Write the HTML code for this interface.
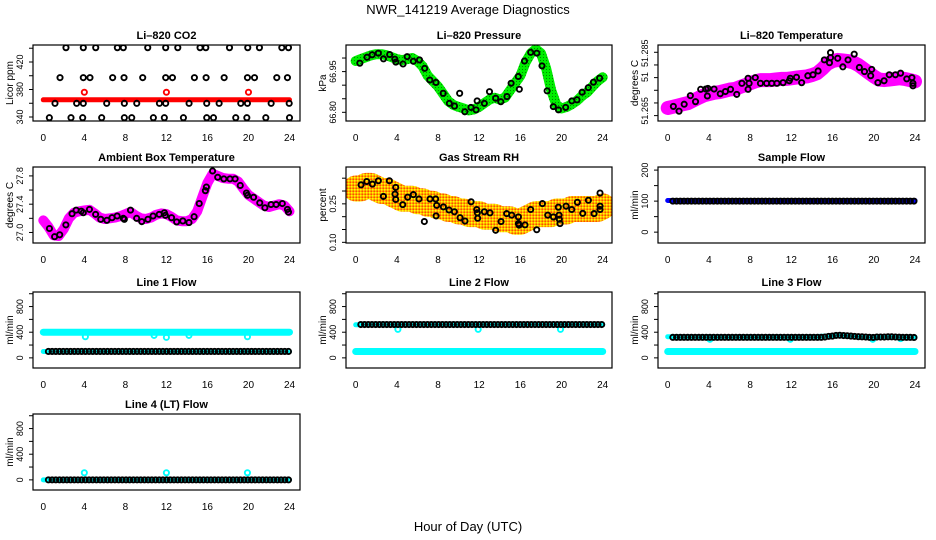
<!DOCTYPE html>
<html><head><meta charset="utf-8"><title>NWR_141219 Average Diagnostics</title>
<style>
html,body{margin:0;padding:0;background:#fff;}
svg{display:block;font-family:"Liberation Sans",sans-serif;}
</style></head>
<body>
<svg id="chart" width="936" height="540" viewBox="0 0 936 540" xmlns="http://www.w3.org/2000/svg">
<defs>
<pattern id="rhpat" width="3" height="3" patternUnits="userSpaceOnUse">
<rect width="3" height="3" fill="#ffb000"/><rect width="1.5" height="1.5" fill="#ffff00"/><rect x="1.5" y="1.5" width="1.5" height="1.5" fill="#ff5000"/>
</pattern>
<pattern id="prpat" width="3" height="3" patternUnits="userSpaceOnUse">
<rect width="3" height="3" fill="#00ee00"/><rect width="1" height="1" fill="#008800"/>
</pattern>
</defs>
<text x="468" y="14" font-size="13" text-anchor="middle">NWR_141219  Average Diagnostics</text>
<text x="468" y="531" font-size="13" text-anchor="middle">Hour of Day (UTC)</text>
</svg>
<script>
// ---------- data ----------
const CLOUD_HOURS = [0,0.5,1,1.5,2,2.5,3,3.5,4,4.5,5,5.5,6,6.5,7,7.5,8,8.5,9,9.5,10,10.5,11,11.5,12,12.5,13,13.5,14,14.5,15,15.5,16,16.5,17,17.5,18,18.5,19,19.5,20,20.5,21,21.5,22,22.5,23,23.5,24];
const BAND_HOURS = [0,2,4,6,8,10,12,14,16,18,20,22,24];
const FLOW_HOURS = [0.5,0.86,1.22,1.58,1.94,2.3,2.66,3.02,3.38,3.74,4.1,4.46,4.82,5.18,5.54,5.9,6.26,6.62,6.98,7.34,7.7,8.06,8.42,8.78,9.14,9.5,9.86,10.22,10.58,10.94,11.3,11.66,12.02,12.38,12.74,13.1,13.46,13.82,14.18,14.54,14.9,15.26,15.62,15.98,16.34,16.7,17.06,17.42,17.78,18.14,18.5,18.86,19.22,19.58,19.94,20.3,20.66,21.02,21.38,21.74,22.1,22.46,22.82,23.18,23.54,23.9];
const X_TICKS = [0,4,8,12,16,20,24];

// CO2
const co2Hours = [2.21,3.90,5.11,7.22,7.80,10.18,11.93,13.11,15.28,15.84,18.15,19.93,21.07,23.25,23.90,
 1.63,3.90,4.55,6.76,7.87,9.69,11.93,12.59,14.73,15.87,17.63,19.90,20.59,22.76,23.80,
 1.14,3.25,3.90,6.18,7.90,9.11,11.32,11.93,14.21,15.93,17.14,19.25,19.90,22.21,23.97,
 0.59,2.70,3.84,5.69,7.90,8.62,10.73,11.80,13.66,15.93,16.59,18.76,19.84,21.69,24.0];
const co2Vals = [440.8,440.8,440.8,440.8,440.8,440.8,440.8,440.8,440.8,440.8,440.8,440.8,440.8,440.8,440.8,
 397.2,397.2,397.2,397.2,397.2,397.2,397.2,397.2,397.2,397.2,397.2,397.2,397.2,397.2,397.2,
 359.9,359.9,359.9,359.9,359.9,359.9,359.9,359.9,359.9,359.9,359.9,359.9,359.9,359.9,359.9,
 339,339,339,339,339,339,339,339,339,339,339,339,339,339,339];
const co2Band = [365,365,365,365,365,365,365,365,365,365,365,365,365];
const co2RedHours = [4.0,12.0,20.0];
const co2RedVals = [376,376,376];

// Pressure
const presHours = [0.4,1.1,1.6,2.2,2.7,3.3,3.8,3.9,4.6,5.0,5.6,6.2,6.7,7.2,7.8,8.5,9.1,9.6,10.1,10.6,11.2,11.7,11.8,12.5,13.0,13.6,14.1,14.7,15.1,15.8,15.9,16.4,17.0,17.6,18.1,18.6,19.2,19.7,20.4,21.0,21.5,22.0,22.6,23.1,23.7];
const presVals = [66.981,67.003,67.012,67.018,66.997,67.013,66.996,66.985,66.978,67.005,66.988,66.993,66.962,66.919,66.910,66.870,66.833,66.823,66.870,66.802,66.818,66.809,66.842,66.833,66.876,66.852,66.839,66.858,66.907,66.932,66.885,66.989,67.021,67.018,66.971,66.879,66.821,66.809,66.818,66.842,66.846,66.874,66.891,66.911,66.926];
const presCloud = [66.989,66.996,67.003,67.010,67.014,67.014,67.010,67.003,66.996,66.992,
 66.996,67.000,66.989,66.969,66.935,66.915,66.895,66.868,66.841,66.827,
 66.820,66.814,66.807,66.811,66.820,66.834,66.847,66.854,66.847,66.854,
 66.881,66.908,66.935,66.983,67.017,67.033,67.017,66.962,66.881,66.827,
 66.814,66.820,66.830,66.843,66.861,66.874,66.895,66.915,66.929];

// Li-820 temperature
const ltHours = [0.55,1.1,1.6,2.2,2.7,3.2,3.7,3.85,3.9,4.5,5.1,5.6,6.1,6.7,7.2,7.8,7.8,7.9,8.5,9.0,9.6,10.1,10.6,11.2,11.8,11.9,12.5,13.0,13.6,14.1,14.6,15.2,15.7,15.8,15.8,16.5,17.0,17.5,18.1,18.6,19.1,19.7,19.8,20.4,21.0,21.5,22.1,22.6,23.2,23.7,23.8,23.8];
const ltVals = [51.2679,51.2664,51.2686,51.2713,51.2694,51.2733,51.2734,51.2712,51.2736,51.2734,51.2719,51.2726,51.2733,51.2717,51.2752,51.2733,51.2768,51.2752,51.2770,51.2752,51.2752,51.2752,51.2752,51.2754,51.2760,51.2768,51.2771,51.2754,51.2776,51.2779,51.2791,51.2826,51.2817,51.2849,51.2833,51.2831,51.2804,51.2826,51.2844,51.2802,51.2789,51.2776,51.2796,51.2754,51.2760,51.2779,51.2779,51.2784,51.2766,51.2770,51.2752,51.2744];
const ltCloud = [51.2674,51.2678,51.2682,51.2686,51.2690,51.2698,51.2706,51.2714,51.2718,51.2722,51.2724,51.2728,51.2732,51.2734,51.2740,51.2746,51.2752,51.2758,51.2762,51.2762,51.2762,51.2764,51.2766,51.2766,51.2768,51.2770,51.2772,51.2774,51.2778,51.2784,51.2798,51.2814,51.2822,51.2826,51.2824,51.2822,51.2818,51.2810,51.2798,51.2786,51.2774,51.2764,51.2762,51.2764,51.2766,51.2768,51.2766,51.2762,51.2758];

// Ambient box temperature
const abHours = [0.6,1.1,1.6,2.2,2.8,3.2,3.7,3.9,4.5,5.1,5.6,6.2,6.7,7.2,7.8,7.9,8.5,9.1,9.6,10.2,10.7,11.3,11.8,11.9,12.5,13.0,13.6,14.2,14.7,15.2,15.8,15.9,16.5,17.0,17.6,18.2,18.7,19.2,19.8,19.9,20.5,21.1,21.6,22.2,22.7,23.3,23.8,23.9];
const abVals = [27.056,26.94,26.967,27.107,27.265,27.316,27.302,27.279,27.326,27.256,27.186,27.172,27.209,27.233,27.2,27.186,27.316,27.2,27.153,27.186,27.233,27.256,27.279,27.242,27.209,27.149,27.163,27.14,27.223,27.409,27.591,27.642,27.87,27.781,27.758,27.758,27.758,27.665,27.558,27.526,27.498,27.419,27.349,27.395,27.395,27.409,27.326,27.288];
const abCloud = [27.17,27.08,26.96,26.95,27.05,27.20,27.28,27.30,27.31,27.32,27.27,27.21,27.19,27.20,27.21,27.23,27.26,27.29,27.24,27.20,27.19,27.21,27.25,27.27,27.26,27.22,27.17,27.16,27.16,27.19,27.30,27.50,27.70,27.83,27.80,27.77,27.76,27.76,27.72,27.62,27.53,27.48,27.43,27.38,27.36,27.38,27.40,27.38,27.30];

// Gas stream RH
const rhHours = [0.52,1.07,1.62,2.20,2.69,3.27,3.82,3.89,3.89,4.57,5.05,5.60,6.15,6.67,7.22,7.77,7.81,7.87,8.52,9.07,9.59,10.14,10.62,11.21,11.76,11.82,11.85,12.50,13.05,13.60,14.12,14.67,15.16,15.81,15.81,15.87,16.45,17.00,17.59,18.14,18.66,19.21,19.69,19.76,19.79,19.85,20.44,20.99,21.54,22.06,22.61,23.16,23.74,23.74,23.74];
const rhVals = [0.324,0.337,0.327,0.340,0.279,0.340,0.288,0.314,0.267,0.247,0.276,0.286,0.269,0.181,0.269,0.269,0.203,0.244,0.238,0.226,0.219,0.196,0.183,0.258,0.228,0.215,0.194,0.219,0.215,0.147,0.181,0.212,0.206,0.199,0.173,0.167,0.168,0.228,0.149,0.251,0.206,0.199,0.237,0.206,0.190,0.173,0.241,0.228,0.256,0.213,0.264,0.212,0.292,0.241,0.228];
const rhCloud = [0.31,0.31,0.32,0.32,0.31,0.30,0.30,0.29,0.28,0.27,0.27,0.27,0.26,0.26,0.25,0.25,0.24,0.24,0.23,0.23,0.22,0.22,0.21,0.21,0.21,0.20,0.20,0.20,0.19,0.19,0.19,0.18,0.18,0.19,0.20,0.21,0.21,0.21,0.21,0.22,0.22,0.22,0.23,0.23,0.23,0.23,0.23,0.23,0.24];

// Sample flow
const sfVals = [100,100,100,100,100,100,100,100,100,100,100,100,100,100,100,100,100,100,100,100,100,100,100,100,100,100,100,100,100,100,100,100,100,100,100,100,100,100,100,100,100,100,100,100,100,100,100,100,100,100,100,100,100,100,100,100,100,100,100,100,100,100,100,100,100,100];
const sfBand = [102,102,102,102,102,102,102,102,100,102,102,102,102];

// Line flows
const l1Vals = [100,100,100,100,100,100,100,100,100,100,100,100,100,100,100,100,100,100,100,100,100,100,100,100,100,100,100,100,100,100,100,100,100,100,100,100,100,100,100,100,100,100,100,100,100,100,100,100,100,100,100,100,100,100,100,100,100,100,100,100,100,100,100,100,100,100];
const l1BandHi = [400,400,400,400,400,400,400,400,400,400,400,400,400];
const l1BandLo = [100,100,100,100,100,100,100,100,100,100,100,100,100];
const l1DipHours = [4.1,10.8,12.0,14.2,19.9];
const l1DipVals = [330,350,320,350,330];

const l2Vals = [520,520,520,520,520,520,520,520,520,520,520,520,520,520,520,520,520,520,520,520,520,520,520,520,520,520,520,520,520,520,520,520,520,520,520,520,520,520,520,520,520,520,520,520,520,520,520,520,520,520,520,520,520,520,520,520,520,520,520,520,520,520,520,520,520,520];
const l2BandHi = [515,515,515,515,515,515,515,515,515,515,515,515,515];
const l2BandLo = [100,100,100,100,100,100,100,100,100,100,100,100,100];
const l2DipHours = [4.1,11.9,19.9];
const l2DipVals = [445,445,445];

const l3Vals = [320,320,320,320,320,320,320,320,320,320,320,320,320,320,320,320,320,320,320,320,320,320,320,320,320,320,320,320,320,320,320,320,320,320,320,320,320,320,320,320,320,325,335,340,350,352,348,345,340,335,330,328,325,320,318,325,325,325,328,328,325,322,320,320,320,318];
const l3BandHi = [330,330,330,330,330,330,330,330,345,335,325,325,325];
const l3BandLo = [100,100,100,100,100,100,100,100,100,100,100,100,100];
const l3DipHours = [4.1,11.9,19.9,22.6];
const l3DipVals = [290,290,290,300];

const l4Vals = [0,0,0,0,0,0,0,0,0,0,0,0,0,0,0,0,0,0,0,0,0,0,0,0,0,0,0,0,0,0,0,0,0,0,0,0,0,0,0,0,0,0,0,0,0,0,0,0,0,0,0,0,0,0,0,0,0,0,0,0,0,0,0,0,0,0];
const l4Band = [0,0,0,0,0,0,0,0,0,0,0,0,0];
const l4DipHours = [4.0,12.0,19.9];
const l4DipVals = [110,110,110];

const FLOW_TICKS = [0,200,400,600,800,1000];
const FLOW_LABELS = [0,400,800];

// ---------- layout ----------
const svg = document.getElementById('chart');
const NS = 'http://www.w3.org/2000/svg';
const XR = [[43.3,289.5],[355.7,602.7],[667.7,915]];
const BOXX = [[33,300],[346,612],[658,925]];
const ROWT = [45,167,292,414];
const BH = 76;

function mk(tag, attrs, parent){
  const e = document.createElementNS(NS, tag);
  for (const k in attrs) e.setAttribute(k, attrs[k]);
  (parent||svg).appendChild(e);
  return e;
}

function panel(cfg){
  const g = mk('g', {});
  
  
  const [bx0,bx1] = BOXX[cfg.col];
  const top = ROWT[cfg.row], bot = top + BH;
  const [lo,hi] = cfg.dom;
  const xf = h => XR[cfg.col][0] + h/24*(XR[cfg.col][1]-XR[cfg.col][0]);
  const yf = v => bot - (v-lo)/(hi-lo)*BH;
  const t = mk('text', {x:(bx0+bx1)/2, y:top-6, 'font-size':11, 'font-weight':'bold', 'text-anchor':'middle'}, g);
  t.textContent = cfg.title;
  
  
  const yl = mk('text', {transform:`translate(${bx0-20},${(top+bot)/2}) rotate(-90)`, 'font-size':10, 'text-anchor':'middle'}, g);
  yl.textContent = cfg.ylab;
  
  
  cfg.ticks.forEach(v => {
    const tk = mk('line', {x1:bx0-4, x2:bx0, y1:yf(v), y2:yf(v), stroke:'#000', 'stroke-width':1}, g);
    
    
  });
  cfg.labels.forEach((v,i) => {
    const tl = mk('text', {transform:`translate(${bx0-10},${yf(v)}) rotate(-90)`, 'font-size':9, 'text-anchor':'middle'}, g);
    tl.textContent = cfg.labelText ? cfg.labelText[i] : String(v);
    
    
  });
  X_TICKS.forEach(h => {
    const xl = mk('text', {x:xf(h), y:bot+20, 'font-size':10, 'text-anchor':'middle'}, g);
    xl.textContent = String(h);
    
    
  });
  const cid = 'clip-' + cfg.name;
  const cp = mk('clipPath', {id:cid}, g);
  mk('rect', {x:bx0, y:top, width:bx1-bx0, height:BH}, cp);
  const plot = mk('g', {'clip-path':`url(#${cid})`}, g);
  (cfg.bands||[]).forEach(b => {
    const pts = b.hours.map((h,i) => xf(h).toFixed(1)+','+yf(b.vals[i]).toFixed(1)).join(' ');
    const pl = mk('polyline', {points:pts, fill:'none', stroke:b.color, 'stroke-width':b.w, 'stroke-linejoin':'round', 'stroke-linecap':'round'}, plot);
    
    
  });
  (cfg.pts||[]).forEach(s => {
    s.hours.forEach((h,i) => {
      const c = mk('circle', {cx:xf(h), cy:yf(s.vals[i]), r:s.r||2.6, fill:'none', stroke:s.color, 'stroke-width':s.sw||1.9}, plot);
      
      
    });
  });
  const bx = mk('rect', {x:bx0, y:top, width:bx1-bx0, height:BH, fill:'none', stroke:'#000', 'stroke-width':1.2}, g);
  
  
}

panel({name:'co2-panel', title:'Li\u2013820 CO2', col:0, row:0, dom:[334.2,444.7], ticks:[340,360,380,400,420,440], labels:[340,380,420], ylab:'Licor ppm',
  bands:[{name:'co2-band', hours:BAND_HOURS, vals:co2Band, color:'#ff0000', w:5}],
  pts:[{name:'co2-point', hours:co2Hours, vals:co2Vals, color:'#000'},{name:'co2-red-point', hours:co2RedHours, vals:co2RedVals, color:'#ff0000'}]});

panel({name:'pressure-panel', title:'Li\u2013820 Pressure', col:1, row:0, dom:[66.768,67.048], ticks:[66.80,66.85,66.90,66.95,67.00], labels:[66.80,66.95], labelText:['66.80','66.95'], ylab:'kPa',
  bands:[{name:'pressure-cloud', hours:CLOUD_HOURS, vals:presCloud, color:'url(#prpat)', w:10}],
  pts:[{name:'pressure-point', hours:presHours, vals:presVals, color:'#000'}]});

panel({name:'li820-temp-panel', title:'Li\u2013820 Temperature', col:2, row:0, dom:[51.2633,51.2873], ticks:[51.265,51.269,51.273,51.277,51.281,51.285], labels:[51.2665,51.2772,51.2847], labelText:['51.265','51','51.285'], ylab:'degrees C',
  bands:[{name:'li820-temp-cloud', hours:CLOUD_HOURS, vals:ltCloud, color:'#ff00ff', w:14}],
  pts:[{name:'li820-temp-point', hours:ltHours, vals:ltVals, color:'#000'}]});

panel({name:'ambient-temp-panel', title:'Ambient Box Temperature', col:0, row:1, dom:[26.851,27.926], ticks:[27.0,27.2,27.4,27.6,27.8], labels:[27.0,27.4,27.8], labelText:['27.0','27.4','27.8'], ylab:'degrees C',
  bands:[{name:'ambient-temp-cloud', hours:CLOUD_HOURS, vals:abCloud, color:'#ff00ff', w:10}],
  pts:[{name:'ambient-temp-point', hours:abHours, vals:abVals, color:'#000'}]});

panel({name:'rh-panel', title:'Gas Stream RH', col:1, row:1, dom:[0.0974,0.3936], ticks:[0.10,0.15,0.20,0.25,0.30,0.35], labels:[0.10,0.25], labelText:['0.10','0.25'], ylab:'percent',
  bands:[{name:'rh-cloud', hours:CLOUD_HOURS, vals:rhCloud, color:'url(#rhpat)', w:26}],
  pts:[{name:'rh-point', hours:rhHours, vals:rhVals, color:'#000'}]});

panel({name:'sample-flow-panel', title:'Sample Flow', col:2, row:1, dom:[-35,210], ticks:[0,50,100,150,200], labels:[0,100,200], ylab:'ml/min',
  bands:[{name:'sample-flow-band', hours:BAND_HOURS, vals:sfBand, color:'#0000ff', w:5}],
  pts:[{name:'sample-flow-point', hours:FLOW_HOURS, vals:sfVals, color:'#000'}]});

panel({name:'line1-flow-panel', title:'Line 1 Flow', col:0, row:2, dom:[-158,1027], ticks:FLOW_TICKS, labels:FLOW_LABELS, ylab:'ml/min',
  bands:[{name:'line1-band-high', hours:BAND_HOURS, vals:l1BandHi, color:'#00ffff', w:7},{name:'line1-band-low', hours:BAND_HOURS, vals:l1BandLo, color:'#00ffff', w:5}],
  pts:[{name:'line1-dip', hours:l1DipHours, vals:l1DipVals, color:'#00ffff'},{name:'line1-point', hours:FLOW_HOURS, vals:l1Vals, color:'#000'}]});

panel({name:'line2-flow-panel', title:'Line 2 Flow', col:1, row:2, dom:[-158,1027], ticks:FLOW_TICKS, labels:FLOW_LABELS, ylab:'ml/min',
  bands:[{name:'line2-band-high', hours:BAND_HOURS, vals:l2BandHi, color:'#00ffff', w:5},{name:'line2-band-low', hours:BAND_HOURS, vals:l2BandLo, color:'#00ffff', w:7}],
  pts:[{name:'line2-dip', hours:l2DipHours, vals:l2DipVals, color:'#00ffff'},{name:'line2-point', hours:FLOW_HOURS, vals:l2Vals, color:'#000'}]});

panel({name:'line3-flow-panel', title:'Line 3 Flow', col:2, row:2, dom:[-158,1027], ticks:FLOW_TICKS, labels:FLOW_LABELS, ylab:'ml/min',
  bands:[{name:'line3-band-high', hours:BAND_HOURS, vals:l3BandHi, color:'#00ffff', w:5},{name:'line3-band-low', hours:BAND_HOURS, vals:l3BandLo, color:'#00ffff', w:7}],
  pts:[{name:'line3-dip', hours:l3DipHours, vals:l3DipVals, color:'#00ffff'},{name:'line3-point', hours:FLOW_HOURS, vals:l3Vals, color:'#000'}]});

panel({name:'line4-flow-panel', title:'Line 4 (LT) Flow', col:0, row:3, dom:[-158,1027], ticks:FLOW_TICKS, labels:FLOW_LABELS, ylab:'ml/min',
  bands:[{name:'line4-band', hours:BAND_HOURS, vals:l4Band, color:'#00ffff', w:5}],
  pts:[{name:'line4-dip', hours:l4DipHours, vals:l4DipVals, color:'#00ffff'},{name:'line4-point', hours:FLOW_HOURS, vals:l4Vals, color:'#000'}]});
</script>
</body></html>
